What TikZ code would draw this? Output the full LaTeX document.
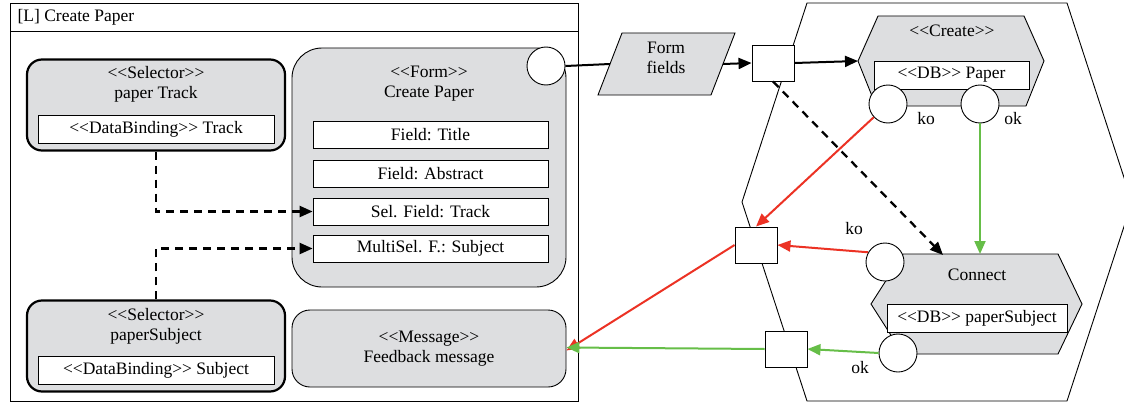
\documentclass[tikz,border=0pt]{standalone}
\usepackage{fontspec}
\setmainfont{Liberation Serif}
\usetikzlibrary{shapes.geometric, arrows.meta, positioning, calc}
\definecolor{panelgray}{RGB}{221,222,224}
\definecolor{kored}{RGB}{236,50,36}
\definecolor{okgreen}{RGB}{102,190,72}
\newcommand{\stereo}[1]{\textless\kern0pt\textless #1\textgreater\kern0pt\textgreater}

\begin{document}
\begin{tikzpicture}[x=1pt, y=-1pt,
        font=\fontsize{17.5}{20}\selectfont,
        selector/.style={draw, fill=panelgray, line width=2.2pt, rounded corners=15pt, minimum width=258, minimum height=91},
        panel/.style={draw, fill=panelgray, line width=0.9pt},
        field/.style={draw, fill=white, line width=0.8pt, inner sep=0pt},
        port/.style={draw, fill=white, circle, line width=0.9pt, minimum size=38},
        junction/.style={draw, fill=white, line width=0.9pt, minimum width=42, minimum height=36},
        flow/.style={line width=2pt, -{Triangle[length=13pt, width=11pt]}},
        dep/.style={line width=2.3pt, dash pattern=on 8pt off 6pt, -{Triangle[length=13pt, width=11pt]}},
        korow/.style={kored, line width=2pt, -{Triangle[length=13pt, width=11pt]}},
        okrow/.style={okgreen, line width=2pt, -{Triangle[length=13pt, width=11pt]}}
    ]
        \useasboundingbox[fill=white] (0,0) rectangle (1124,404);

        % Frame
        \node[draw, line width=0.9pt, minimum width=568, minimum height=398, anchor=north west] (frame) at (10,3) {};
        \draw[line width=0.9pt] (10,31) -- (578,31);
        \node[anchor=west] (title) at (14,17) {[L] Create Paper};

        % Selectors
        \node[selector] (selTrack) at (156,105) {};
        \node[align=center] (selTrackTxt) at (156,84) {\stereo{Selector}\\paper Track};
        \node[field, minimum width=236, minimum height=28] (trackBind) at (156,129) {\stereo{DataBinding} Track};
        \node[selector] (selSubject) at (156,346) {};
        \node[align=center] (selSubjectTxt) at (156,326) {\stereo{Selector}\\paperSubject};
        \node[field, minimum width=236, minimum height=28] (subjectBind) at (156,370) {\stereo{DataBinding} Subject};

        % Form
        \node[panel, rounded corners=30pt, minimum width=274, minimum height=239] (form) at (429,167.5) {};
        \node[align=center] (formTxt) at (429,84) {\stereo{Form}\\Create Paper};
        \node[field, minimum width=235, minimum height=27] (titleField) at (430.5,134.5) {Field: Title};
        \node[field, minimum width=235, minimum height=27] (abstractField) at (430.5,173.5) {Field: Abstract};
        \node[field, minimum width=235, minimum height=27] (trackField) at (430.5,211.5) {Sel. Field: Track};
        \node[field, minimum width=235, minimum height=27] (subjectField) at (430.5,248.5) {MultiSel. F.: Subject};
        \node[port] (formOut) at (546,66) {};

        % Message
        \node[panel, rounded corners=18pt, minimum width=274, minimum height=77, align=center] (message) at (429,348.5) {\stereo{Message}\\Feedback message};

        \draw[dep] (selTrack.south) |- (trackField.west);
        \draw[dep] (selSubject.north) |- (subjectField.west);

        % Operation area
        \draw[line width=0.9pt] (807,3) -- (1067,3) -- (1132,202) -- (1067,401) -- (807,401) -- (742,202) -- cycle;

        \draw[panel] (598,95) -- (622,33) -- (735,33) -- (711,95) -- cycle;
        \node[align=center] (fields) at (666,58) {Form\\fields};
        \coordinate (fieldsIn) at (610,64);
        \coordinate (fieldsOut) at (723,64);
        \node[junction] (j1) at (773,63) {};
        \node[junction] (j2) at (756,245) {};
        \node[junction] (j3) at (786,349) {};

        % Create
        \draw[panel] (858,61) -- (878,16) -- (1024,16) -- (1044,61) -- (1026,106) -- (876,106) -- cycle;
        \coordinate (createIn) at (858,61);
        \node (createTxt) at (952,31) {\stereo{Create}};
        \node[field, minimum width=155, minimum height=28] (paperDB) at (951.5,75) {\stereo{DB} Paper};
        \node[port] (createKo) at (888,104) {};
        \node[port] (createOk) at (980,104) {};
        \node (createKoLbl) at (926,119) {ko};
        \node (createOkLbl) at (1013,119) {ok};

        % Connect
        \draw[panel] (871,304) -- (903,254) -- (1058,254) -- (1082,304) -- (1058,354) -- (903,354) -- cycle;
        \coordinate (connectIn) at (943,255);
        \coordinate (connectTop) at (980,254);
        \node (connectTxt) at (977,275) {Connect};
        \node[field, minimum width=180, minimum height=28] (subjectDB) at (977,318) {\stereo{DB} paperSubject};
        \node[port] (connectKo) at (885,262) {};
        \node[port] (connectOk) at (898,353) {};
        \node (connectKoLbl) at (854,229) {ko};
        \node (connectOkLbl) at (860,368) {ok};

        % Flows
        \draw[line width=2pt] (formOut.east) -- (fieldsIn);
        \draw[flow] (fieldsOut) -- (j1.west);
        \draw[flow] (j1.east) -- (createIn);
        \draw[dep] (j1.south) -- (connectIn);
        \draw[korow] (createKo) -- (j2.north);
        \draw[korow] (connectKo.150) -- (j2.east);
        \draw[korow] (j2.west) -- ([yshift=-2]message.east);
        \draw[okrow] (createOk.south) -- (connectTop);
        \draw[okrow] (connectOk.west) -- (j3.east);
        \draw[okrow] (j3.west) -- ([yshift=1]message.east);
    \end{tikzpicture}
\end{document}
